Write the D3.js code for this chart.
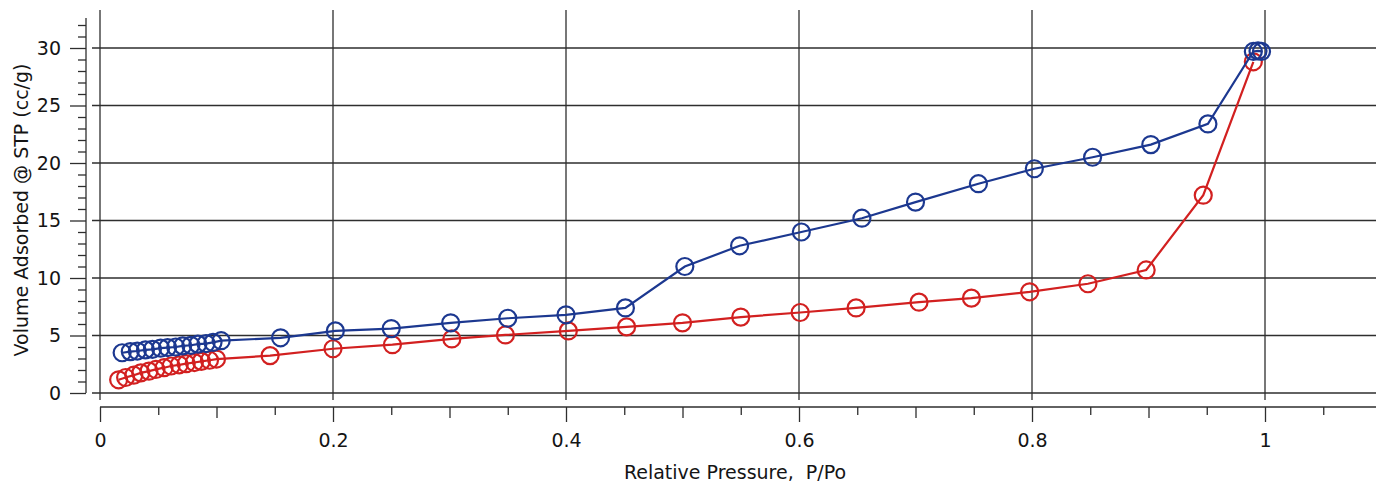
<!DOCTYPE html>
<html>
<head>
<meta charset="utf-8">
<script src="https://cdn.jsdelivr.net/npm/d3@7"></script>
<style>
  html, body { margin: 0; padding: 0; background: #fff; }
  text { font-family: "DejaVu Sans", Verdana, sans-serif; fill: #141414; }
</style>
</head>
<body>
<div id="chart"></div>
<script>
// adsorption branch (red)
const adsP = [0.016, 0.022, 0.029, 0.035, 0.042, 0.048, 0.055, 0.061, 0.068, 0.074, 0.081, 0.087, 0.094, 0.100,
  0.146, 0.200, 0.251, 0.302, 0.348, 0.402, 0.452, 0.500, 0.550, 0.601, 0.649, 0.703, 0.748, 0.798, 0.848, 0.898, 0.947, 0.990];
const adsV = [1.15, 1.35, 1.55, 1.75, 1.9, 2.05, 2.2, 2.35, 2.45, 2.55, 2.65, 2.75, 2.85, 2.95,
  3.25, 3.85, 4.2, 4.7, 5.05, 5.4, 5.75, 6.1, 6.6, 7.0, 7.4, 7.9, 8.25, 8.8, 9.5, 10.7, 17.2, 28.8];
// desorption branch (blue)
const desP = [0.019, 0.026, 0.032, 0.039, 0.045, 0.052, 0.058, 0.065, 0.071, 0.078, 0.084, 0.091, 0.097, 0.104,
  0.155, 0.202, 0.250, 0.301, 0.350, 0.400, 0.451, 0.502, 0.549, 0.602, 0.654, 0.700, 0.754, 0.802, 0.852, 0.902, 0.951, 0.990, 0.994, 0.997];
const desV = [3.5, 3.6, 3.65, 3.75, 3.8, 3.9, 3.95, 4.0, 4.1, 4.15, 4.25, 4.3, 4.4, 4.55,
  4.8, 5.4, 5.6, 6.1, 6.5, 6.8, 7.4, 11.0, 12.8, 14.0, 15.2, 16.6, 18.2, 19.5, 20.5, 21.6, 23.4, 29.7, 29.75, 29.7];

const xTickLabels = ["0", "0.2", "0.4", "0.6", "0.8", "1"];
const yTickLabels = ["0", "5", "10", "15", "20", "25", "30"];

const width = 1376, height = 483;
const gridColor = "#2e2e2e";
const blue = "#1c3890", red = "#d22020";

const svg = d3.select("#chart").append("svg")
  .attr("width", width).attr("height", height);
svg.append("rect").attr("width", width).attr("height", height).attr("fill", "#fff");

const x = d3.scaleLinear().domain([0, 1]).range([100, 1265]);
const y = d3.scaleLinear().domain([0, 30]).range([393, 48]);

// horizontal grid lines
svg.append("g")
  .selectAll("line")
  .data(yTickLabels.map(Number))
  .join("line")
  .attr("x1", 92).attr("x2", width)
  .attr("y1", d => y(d)).attr("y2", d => y(d))
  .attr("stroke", gridColor).attr("stroke-width", 1.3);

// vertical grid lines
svg.append("g")
  .selectAll("line")
  .data(xTickLabels.map(Number))
  .join("line")
  .attr("x1", d => x(d)).attr("x2", d => x(d))
  .attr("y1", y(33.3)).attr("y2", y(-0.6))
  .attr("stroke", gridColor).attr("stroke-width", 1.3);

// left axis with minor ticks
const yMinor = d3.range(0, 33);
const yAxis = d3.axisLeft(y)
  .tickValues(yMinor)
  .tickSizeOuter(0)
  .tickFormat(d => d % 5 === 0 ? String(d) : "");
const gy = svg.append("g")
  .attr("transform", "translate(86,0)")
  .call(yAxis);
gy.select(".domain").remove();
gy.append("line")
  .attr("x1", 0).attr("x2", 0)
  .attr("y1", y(32.6)).attr("y2", y(0))
  .attr("stroke", gridColor).attr("stroke-width", 1.3);
gy.selectAll(".tick line")
  .attr("stroke", gridColor).attr("stroke-width", 1.3)
  .attr("x2", d => d % 5 === 0 ? -16 : -8);
gy.selectAll(".tick text")
  .attr("x", -25)
  .style("font-size", "19px")
  .attr("fill", "#141414");

// bottom axis with minor ticks
const xMinor = d3.range(0, 22).map(i => i / 20);
const xAxis = d3.axisBottom(x)
  .tickValues(xMinor)
  .tickSizeOuter(0)
  .tickFormat(d => {
    const k = Math.round(d * 20);
    return k % 4 === 0 ? xTickLabels[k / 4] : "";
  });
const gx = svg.append("g")
  .attr("transform", "translate(0,407)")
  .call(xAxis);
gx.select(".domain").remove();
gx.append("line")
  .attr("x1", x(0)).attr("x2", width)
  .attr("y1", 0).attr("y2", 0)
  .attr("stroke", gridColor).attr("stroke-width", 1.3);
gx.selectAll(".tick line")
  .attr("stroke", gridColor).attr("stroke-width", 1.3)
  .attr("y2", d => {
    const k = Math.round(d * 20);
    return k % 4 === 0 ? 15 : (k % 2 === 0 ? 11 : 8);
  });
gx.selectAll(".tick text")
  .attr("y", 27)
  .style("font-size", "19px")
  .attr("fill", "#141414");

// axis titles
svg.append("text")
  .attr("transform", "translate(28,210) rotate(-90)")
  .attr("text-anchor", "middle")
  .style("font-size", "19px")
  .text("Volume Adsorbed @ STP (cc/g)");
svg.append("text")
  .attr("x", 735).attr("y", 479)
  .attr("text-anchor", "middle")
  .style("font-size", "19px")
  .style("white-space", "pre")
  .attr("xml:space", "preserve")
  .text("Relative Pressure,  P/Po");

// series
const line = d3.line().x(d => x(d[0])).y(d => y(d[1]));
const series = [
  { pts: d3.zip(adsP, adsV), color: red },
  { pts: d3.zip(desP, desV), color: blue }
];
series.forEach(s => {
  svg.append("path")
    .datum(s.pts)
    .attr("d", line)
    .attr("fill", "none")
    .attr("stroke", s.color)
    .attr("stroke-width", 2.2);
  svg.append("g")
    .selectAll("circle")
    .data(s.pts)
    .join("circle")
    .attr("cx", d => x(d[0]))
    .attr("cy", d => y(d[1]))
    .attr("r", 8.5)
    .attr("fill", "none")
    .attr("stroke", s.color)
    .attr("stroke-width", 2.2);
});
</script>
</body>
</html>
